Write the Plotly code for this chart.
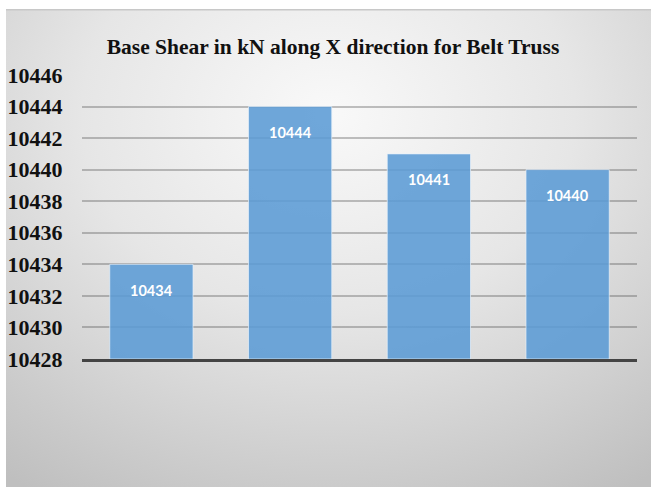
import base64
import plotly.graph_objects as go

# Base shear (kN) along X direction for the four belt-truss cases
cases = ["Case 1", "Case 2", "Case 3", "Case 4"]
base_shear = [10434, 10444, 10441, 10440]
y_ticks = list(range(10428, 10447, 2))

W, H = 651, 487
L, R, T, B = 82, 14, 75, 128
plot_w, plot_h = W - L - R, H - T - B
SERIF = "'Liberation Serif', 'Times New Roman', Times, serif"

# Soft radial-gradient card behind the whole chart
card_w, card_h = W - 6, H - 9
svg = f"""<svg xmlns='http://www.w3.org/2000/svg' width='{card_w}' height='{card_h}' preserveAspectRatio='none'>
<defs><radialGradient id='g' cx='0.5' cy='0.22' r='0.85' gradientTransform='translate(0.5,0.22) scale(1,1.1) translate(-0.5,-0.22)'>
<stop offset='0' stop-color='#f9f9f9'/><stop offset='0.45' stop-color='#e6e6e6'/><stop offset='1' stop-color='#bfbfbf'/></radialGradient></defs>
<rect width='100%' height='100%' fill='url(#g)'/>
<rect x='0' y='0' width='100%' height='1.5' fill='#c8c8c8'/>
</svg>"""
bg_src = "data:image/svg+xml;base64," + base64.b64encode(svg.encode()).decode()

fig = go.Figure()
fig.add_bar(
    x=cases,
    y=[v - y_ticks[0] for v in base_shear],
    base=y_ticks[0],
    width=0.6,
    marker=dict(color="rgba(91,155,213,0.88)", line=dict(color="rgba(230,240,250,0.7)", width=1)),
    hoverinfo="skip",
)

for c, v in zip(cases, base_shear):
    fig.add_annotation(
        x=c, y=v, text=str(v), showarrow=False, yshift=-26,
        font=dict(family="Lato", size=14.5, color="white", weight="bold"),
    )

fig.update_layout(
    width=W, height=H,
    margin=dict(l=L, r=R, t=T, b=B, autoexpand=False),
    paper_bgcolor="white",
    plot_bgcolor="rgba(0,0,0,0)",
    showlegend=False,
    title=dict(
        text="Base Shear in kN along X direction for Belt Truss",
        x=333 / W, xanchor="center", y=1 - 46 / H, yanchor="middle",
        font=dict(family=SERIF, size=21.5, color="#111111", weight="bold"),
        automargin=False,
    ),
    images=[dict(
        source=bg_src, xref="paper", yref="paper",
        x=(6 - L) / plot_w, y=(H - B - 9) / plot_h,
        sizex=card_w / plot_w, sizey=card_h / plot_h,
        xanchor="left", yanchor="top", sizing="stretch", layer="below",
    )],
    xaxis=dict(
        showticklabels=False, showgrid=False, zeroline=False, automargin=False,
        showline=True, linecolor="#444444", linewidth=3,
    ),
    yaxis=dict(
        range=[y_ticks[0], y_ticks[-1]], tickvals=y_ticks, automargin=False,
        ticktext=[str(t) for t in y_ticks],
        tickfont=dict(family=SERIF, size=22, color="#111111", weight="bold"),
        ticks="outside", ticklen=14, tickcolor="rgba(0,0,0,0)",
        showgrid=True, gridcolor="rgba(80,80,80,0.35)", gridwidth=2,
        zeroline=False, showline=False,
    ),
)

fig.write_html("out.html")
